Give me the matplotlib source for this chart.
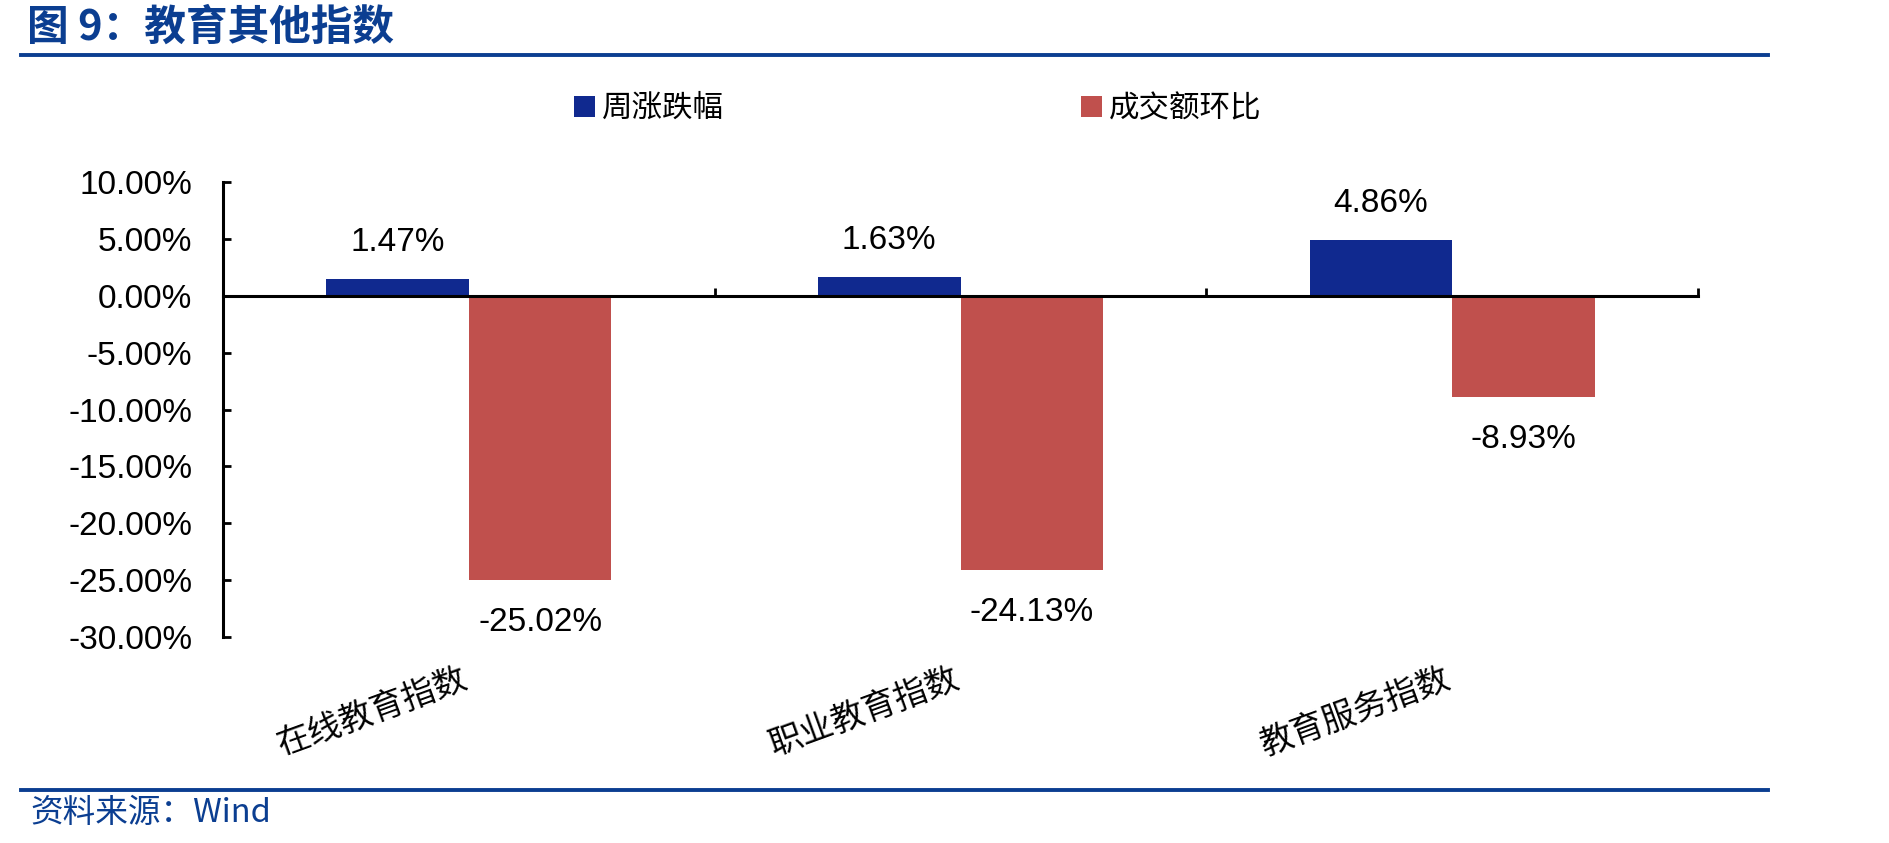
import matplotlib
matplotlib.use("Agg")
import matplotlib.pyplot as plt
from matplotlib.lines import Line2D
from matplotlib.ticker import FuncFormatter

plt.rcParams['font.family'] = ['Liberation Sans', 'Noto Sans CJK SC', 'DejaVu Sans']

categories = ["在线教育指数", "职业教育指数", "教育服务指数"]
weekly_change = [1.47, 1.63, 4.86]
turnover_change = [-25.02, -24.13, -8.93]
series_names = ["周涨跌幅", "成交额环比"]

BLUE = '#10298F'
RED = '#C0504D'
DARK = '#0B3E91'
CJK = ['Noto Sans CJK SC', 'DejaVu Sans']

fig = plt.figure(figsize=(18.89, 8.43), dpi=100)
ax = fig.add_axes([223 / 1889, 1 - 637 / 843, 1475 / 1889, 455 / 843])

x = list(range(len(categories)))
w = 0.29
b1 = ax.bar([i - w / 2 for i in x], weekly_change, w, color=BLUE, label=series_names[0])
b2 = ax.bar([i + w / 2 for i in x], turnover_change, w, color=RED, label=series_names[1])

for i, v in enumerate(weekly_change):
    ax.annotate(f"{v:.2f}%", (i - w / 2, v), xytext=(0, 37), textcoords='offset pixels',
                ha='center', va='center', fontsize=24)
for i, v in enumerate(turnover_change):
    ax.annotate(f"{v:.2f}%", (i + w / 2, v), xytext=(0, -42), textcoords='offset pixels',
                ha='center', va='center', fontsize=24)

ax.set_ylim(-30, 10)
ax.set_xlim(-0.5, len(categories) - 0.5)
ax.set_yticks(range(-30, 11, 5))
ax.yaxis.set_major_formatter(FuncFormatter(lambda v, p: f"{v:.2f}%"))
ax.tick_params(axis='y', direction='in', length=6, width=2, pad=22, labelsize=24)
ax.set_xticks([i + 0.5 for i in x])
ax.set_xticklabels([])
ax.tick_params(axis='x', direction='in', length=6, width=2)

for s in ['top', 'right']:
    ax.spines[s].set_visible(False)
ax.spines['bottom'].set_position(('data', 0))
ax.spines['bottom'].set_linewidth(2.2)
ax.spines['left'].set_linewidth(2.2)
ax.spines['bottom'].set_zorder(3)

for i, name in enumerate(categories):
    ax.annotate(name, (i, -30), xytext=(-96, -75), textcoords='offset pixels',
                ha='center', va='center', rotation=20, fontsize=24, family=CJK)

leg = fig.legend(handles=[b1, b2], loc='upper left', bbox_to_anchor=(574 / 1889, 1 - 93 / 843),
                 ncol=2, frameon=False, prop={'family': CJK, 'size': 22},
                 handlelength=0.7, handleheight=0.7, handletextpad=0.2,
                 columnspacing=11.7, borderpad=0, borderaxespad=0)

fig.text(27 / 1889, 1 - 28 / 843, "图 9：教育其他指数", family=CJK, fontsize=30,
         fontweight='bold', color=DARK, va='center', ha='left')
fig.add_artist(Line2D([21 / 1889, 1768 / 1889], [1 - 55 / 843] * 2, color=DARK, lw=2.8))
fig.add_artist(Line2D([21 / 1889, 1768 / 1889], [1 - 790 / 843] * 2, color=DARK, lw=2.8))
fig.text(30 / 1889, 1 - 813 / 843, "资料来源：Wind", family=CJK, fontsize=23.5,
         style='italic', color=DARK, va='center', ha='left')

fig.savefig("out.png", dpi=100)
